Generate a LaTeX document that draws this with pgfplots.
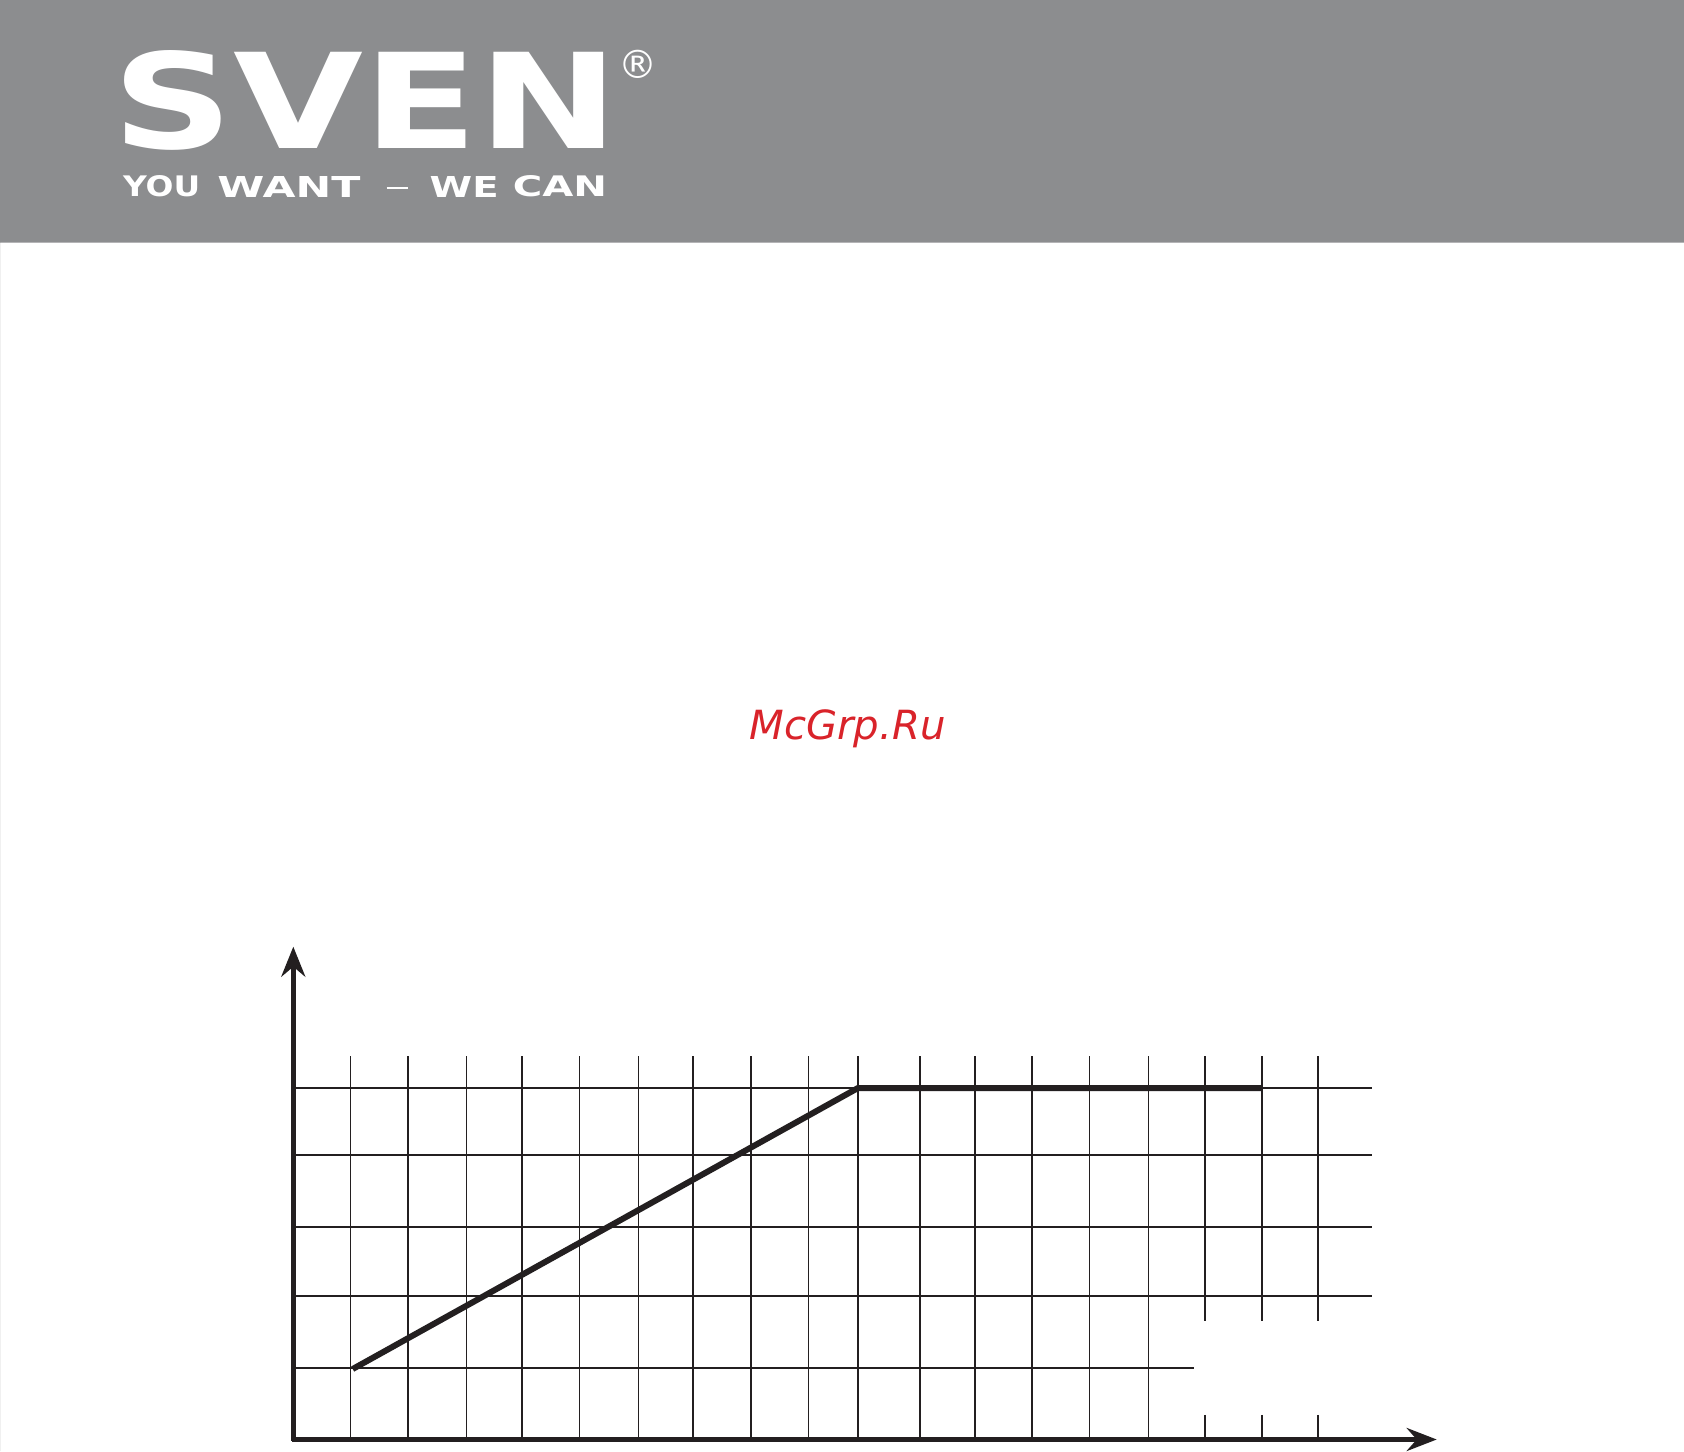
\documentclass[border=0pt]{standalone}
\usepackage{pgfplots}
\pgfplotsset{compat=1.18}
\usepackage{graphicx}
\usepackage{fontspec}
\setmainfont{Liberation Sans}
\newfontfamily\dejavu{DejaVu Sans}
\usetikzlibrary{arrows.meta}
\definecolor{hdr}{HTML}{8C8D8F}
\definecolor{ink}{HTML}{231F20}
\definecolor{wm}{HTML}{D9232A}
\begin{document}
\begin{tikzpicture}
\fill[white] (0,0) rectangle (842pt,725.5pt);
\begin{axis}[
  at={(0,0)}, anchor=south west,
  scale only axis, width=842pt, height=725.5pt,
  xmin=0, xmax=1684, ymin=0, ymax=1451,
  hide axis, clip=false,
  unbounded coords=jump,
]
% header band
\addplot[fill=hdr, draw=none] coordinates {(0,1208.3) (1684,1208.3) (1684,1451) (0,1451)} \closedcycle;
% vertical grid lines
\addplot[ink, line width=0.9pt] coordinates {
 (350.4,395) (350.4,11.5) (nan,nan)
 (407.6,395) (407.6,11.5) (nan,nan)
 (466.5,395) (466.5,11.5) (nan,nan)
 (522.3,395) (522.3,11.5) (nan,nan)
 (579.5,395) (579.5,11.5) (nan,nan)
 (638.4,395) (638.4,11.5) (nan,nan)
 (693.3,395) (693.3,11.5) (nan,nan)
 (751.3,395) (751.3,11.5) (nan,nan)
 (808.5,395) (808.5,11.5) (nan,nan)
 (857.6,395) (857.6,11.5) (nan,nan)
 (920.2,395) (920.2,11.5) (nan,nan)
 (975.0,395) (975.0,11.5) (nan,nan)
 (1032.0,395) (1032.0,11.5) (nan,nan)
 (1089.5,395) (1089.5,11.5) (nan,nan)
 (1148.5,395) (1148.5,11.5) (nan,nan)
 (1205.3,395) (1205.3,129.6) (nan,nan)
 (1205.3,36.2) (1205.3,11.5) (nan,nan)
 (1262.3,395) (1262.3,129.6) (nan,nan)
 (1262.3,36.2) (1262.3,11.5) (nan,nan)
 (1318.3,395) (1318.3,129.6) (nan,nan)
 (1318.3,36.2) (1318.3,11.5)
};
% horizontal grid lines
\addplot[ink, line width=0.9pt] coordinates {
 (293.3,362.8) (1371.7,362.8) (nan,nan)
 (293.3,295.8) (1371.7,295.8) (nan,nan)
 (293.3,223.7) (1371.7,223.7) (nan,nan)
 (293.3,155.0) (1371.7,155.0) (nan,nan)
 (293.3,82.9) (1193.7,82.9)
};
% characteristic line
\addplot[ink, line width=3pt, line join=miter] coordinates {(352.7,82) (857.6,362.8) (1262.5,362.8)};
% axes
\addplot[ink, line width=2.35pt, -{Stealth[length=15pt, width=12pt, inset=5pt]}] coordinates {(293.3,10.3) (293.3,504.3)};
\addplot[ink, line width=2.35pt, -{Stealth[length=15pt, width=11.5pt, inset=5pt]}] coordinates {(292.1,11.5) (1436.7,11.5)};
% logo texts
\node[anchor=south west, inner sep=0pt, text=white] at (axis cs:112.5,1300.3) {\resizebox{253pt}{49pt}{\dejavu\bfseries SVEN}};
\node[anchor=south west, inner sep=0pt, text=white] at (axis cs:122.7,1253.3) {\resizebox{38.6pt}{10.5pt}{\dejavu\bfseries YOU}};
\node[anchor=south west, inner sep=0pt, text=white] at (axis cs:217,1253.3) {\resizebox{71.5pt}{10.5pt}{\dejavu\bfseries WANT}};
\node[anchor=center, inner sep=0pt, text=white] at (axis cs:397.5,1262.7) {\resizebox{10.8pt}{1.1pt}{\rule{10pt}{1pt}}};
\node[anchor=south west, inner sep=0pt, text=white] at (axis cs:429.3,1253.3) {\resizebox{34.5pt}{10.5pt}{\dejavu\bfseries WE}};
\node[anchor=south west, inner sep=0pt, text=white] at (axis cs:512.5,1253.3) {\resizebox{47.1pt}{10.5pt}{\dejavu\bfseries CAN}};
\node[anchor=center, inner sep=0pt, text=white] at (axis cs:638.3,1386.8) {\resizebox{19.5pt}{!}{\dejavu ®}};
% watermark
\node[anchor=base west, inner sep=0pt, text=wm] at (axis cs:749,711) {\dejavu\fontsize{20.1pt}{22pt}\selectfont\itshape McGrp.Ru};
\end{axis}
\pgfresetboundingbox
\path[use as bounding box] (0,0) rectangle (842pt,725.5pt);
\end{tikzpicture}
\end{document}
